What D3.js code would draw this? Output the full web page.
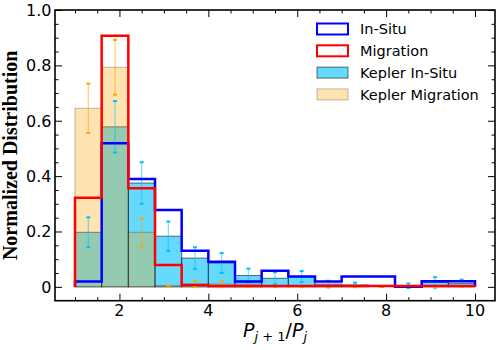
<!DOCTYPE html>
<html>
<head>
<meta charset="utf-8">
<script src="https://cdn.jsdelivr.net/npm/d3@7"></script>
<style>
  body { margin: 0; background: #fff; }
  svg { display: block; }
  .tick-label { font-family: "DejaVu Sans", sans-serif; font-size: 16px; fill: #000; }
  .legend text { font-family: "DejaVu Sans", sans-serif; font-size: 14.5px; fill: #000; }
</style>
</head>
<body>
<svg id="chart" width="498" height="350"></svg>
<script>
// Bin edges of P_{j+1}/P_j
const binEdges = [1.0, 1.6, 2.2, 2.8, 3.4, 4.0, 4.6, 5.2, 5.8, 6.4, 7.0, 7.6, 8.2, 8.8, 9.4, 10.0];

// Normalized distributions, one value per bin
const inSitu          = [0.019, 0.519, 0.390, 0.278, 0.130, 0.091, 0.019, 0.058, 0.037, 0.019, 0.037, 0.037, 0.000, 0.020, 0.020];
const migration       = [0.322, 0.907, 0.356, 0.079, 0.007, 0.003, 0.003, 0.003, 0.003, 0.003, 0.003, 0.003, 0.003, 0.003, 0.003];
const keplerInSitu    = [0.197, 0.578, 0.375, 0.183, 0.104, 0.086, 0.041, 0.031, 0.037, 0.010, 0.007, 0.000, 0.004, 0.016, 0.013];
const keplerInSituErr = [0.054, 0.093, 0.075, 0.053, 0.039, 0.036, 0.025, 0.022, 0.020, 0.012, 0.008, 0.000, 0.008, 0.019, 0.013];
const keplerMigration    = [0.645, 0.793, 0.197, 0.005, 0.010, 0.010, 0.010, 0.000, 0.000, 0.000, 0.000, 0.000, 0.000, 0.000, 0.000];
const keplerMigrationErr = [0.089, 0.099, 0.050, 0.000, 0.011, 0.011, 0.011, 0.000, 0.000, 0.000, 0.000, 0.000, 0.000, 0.000, 0.000];

const yTicks = [0, 0.2, 0.4, 0.6, 0.8, 1.0];
const yTickLabels = ['0', '0.2', '0.4', '0.6', '0.8', '1.0'];
const xTicks = [2, 4, 6, 8, 10];
const legendLabels = ['In-Situ', 'Migration', 'Kepler In-Situ', 'Kepler Migration'];

// Layout
const frame = { left: 55, right: 495, top: 10, bottom: 300.7 };

const svg = d3.select('#chart');

const x = d3.scaleLinear().domain([0.55, 10.45]).range([frame.left, frame.right]);
const y = d3.scaleLinear().domain([-0.05, 1.0]).range([frame.bottom, frame.top]);

const bins = binEdges.slice(0, -1).map((x0, i) => ({ x0, x1: binEdges[i + 1], i }));

const plot = svg.append('g');

// Filled Kepler histograms
function filledHist(values, fill, fillOpacity, edge) {
  plot.append('g')
    .selectAll('rect')
    .data(bins.filter(b => values[b.i] > 0))
    .join('rect')
      .attr('x', d => x(d.x0))
      .attr('width', d => x(d.x1) - x(d.x0))
      .attr('y', d => y(values[d.i]))
      .attr('height', d => y(0) - y(values[d.i]))
      .attr('fill', fill)
      .attr('fill-opacity', fillOpacity)
      .attr('stroke', edge)
      .attr('stroke-width', 1);
}
filledHist(keplerInSitu, 'deepskyblue', 0.6, 'rgba(0,0,0,0.55)');
filledHist(keplerMigration, 'orange', 0.3, 'rgba(0,0,0,0.25)');

// Error bars at bin centres
function errorBars(values, errs, color) {
  const g = plot.append('g');
  const data = bins.map(b => ({ c: (b.x0 + b.x1) / 2, v: values[b.i], e: errs[b.i] }));
  g.selectAll('line')
    .data(data)
    .join('line')
      .attr('x1', d => x(d.c)).attr('x2', d => x(d.c))
      .attr('y1', d => y(d.v - d.e)).attr('y2', d => y(d.v + d.e))
      .attr('stroke', color).attr('stroke-opacity', 0.55).attr('stroke-width', 1.2);
  const caps = data.flatMap(d => [d.v - d.e, d.v + d.e].map(v => ({ c: d.c, v })));
  g.selectAll('rect')
    .data(caps)
    .join('rect')
      .attr('x', d => x(d.c) - 2)
      .attr('y', d => y(d.v) - 1)
      .attr('width', 4).attr('height', 2)
      .attr('fill', color);
}
errorBars(keplerInSitu, keplerInSituErr, 'deepskyblue');
errorBars(keplerMigration, keplerMigrationErr, 'orange');

// Step outlines of the simulated distributions
function stepPath(values) {
  const pts = [[binEdges[0], 0]];
  values.forEach((v, i) => { pts.push([binEdges[i], v]); pts.push([binEdges[i + 1], v]); });
  pts.push([binEdges[binEdges.length - 1], 0]);
  return d3.line().x(d => x(d[0])).y(d => y(d[1]))(pts);
}
plot.append('path').attr('d', stepPath(inSitu))
  .attr('fill', 'none').attr('stroke', '#0000ff').attr('stroke-width', 2.5).attr('stroke-linejoin', 'miter');
plot.append('path').attr('d', stepPath(migration))
  .attr('fill', 'none').attr('stroke', '#ff0000').attr('stroke-width', 2.5).attr('stroke-linejoin', 'miter');

// Axes: inward ticks on all four sides
const yMinor = d3.range(-0.05, 1.001, 0.05).filter(v => v > -0.04 && !yTicks.some(t => Math.abs(t - v) < 1e-6));
const xMinor = d3.range(1, 10.01, 0.5).filter(v => !xTicks.includes(v));

svg.append('g').attr('transform', `translate(${frame.left},0)`)
  .call(d3.axisRight(y).tickValues(yTicks).tickSize(7).tickFormat(''));
svg.append('g').attr('transform', `translate(${frame.left},0)`)
  .call(d3.axisRight(y).tickValues(yMinor).tickSize(3.5).tickFormat(''));
svg.append('g').attr('transform', `translate(${frame.right},0)`)
  .call(d3.axisLeft(y).tickValues(yTicks).tickSize(7).tickFormat(''));
svg.append('g').attr('transform', `translate(${frame.right},0)`)
  .call(d3.axisLeft(y).tickValues(yMinor).tickSize(3.5).tickFormat(''));
svg.append('g').attr('transform', `translate(0,${frame.bottom})`)
  .call(d3.axisTop(x).tickValues(xTicks).tickSize(7).tickFormat(''));
svg.append('g').attr('transform', `translate(0,${frame.bottom})`)
  .call(d3.axisTop(x).tickValues(xMinor).tickSize(3.5).tickFormat(''));
svg.append('g').attr('transform', `translate(0,${frame.top})`)
  .call(d3.axisBottom(x).tickValues(xTicks).tickSize(7).tickFormat(''));
svg.append('g').attr('transform', `translate(0,${frame.top})`)
  .call(d3.axisBottom(x).tickValues(xMinor).tickSize(3.5).tickFormat(''));
svg.selectAll('.domain').remove();
svg.selectAll('.tick line').attr('stroke', '#000').attr('stroke-width', 1);

svg.append('rect')
  .attr('x', frame.left).attr('y', frame.top)
  .attr('width', frame.right - frame.left).attr('height', frame.bottom - frame.top)
  .attr('fill', 'none').attr('stroke', '#000').attr('stroke-width', 1.6);

// Tick labels
svg.append('g').selectAll('text')
  .data(yTicks)
  .join('text')
    .attr('class', 'tick-label')
    .attr('x', frame.left - 3.5)
    .attr('y', d => y(d))
    .attr('dy', '0.36em')
    .attr('text-anchor', 'end')
    .text((d, i) => yTickLabels[i]);
svg.append('g').selectAll('text')
  .data(xTicks)
  .join('text')
    .attr('class', 'tick-label')
    .attr('x', d => x(d))
    .attr('y', frame.bottom + 3)
    .attr('dy', '0.76em')
    .attr('text-anchor', 'middle')
    .text(d => d);

// Axis titles
const xl = svg.append('text')
  .attr('x', (frame.left + frame.right) / 2)
  .attr('y', 337)
  .attr('text-anchor', 'middle')
  .style('font-family', '"DejaVu Sans", sans-serif')
  .style('font-style', 'italic')
  .style('font-size', '19px');
xl.append('tspan').text('P');
xl.append('tspan').attr('dy', 4).style('font-size', '13px').text('j');
xl.append('tspan').style('font-size', '13px').style('font-style', 'normal').text(' + 1');
xl.append('tspan').attr('dy', -4).style('font-style', 'normal').text('/');
xl.append('tspan').text('P');
xl.append('tspan').attr('dy', 4).style('font-size', '13px').text('j');

svg.append('text')
  .attr('transform', `translate(17,${(frame.top + frame.bottom) / 2}) rotate(-90)`)
  .attr('text-anchor', 'middle')
  .style('font-family', '"Liberation Serif", serif')
  .style('font-weight', 'bold')
  .style('font-size', '20px')
  .text('Normalized Distribution');

// Legend
const legendStyles = [
  { fill: '#fff', stroke: '#0000ff', sw: 2 },
  { fill: '#fff', stroke: '#ff0000', sw: 2 },
  { fill: 'rgb(102,217,255)', stroke: 'rgba(0,0,0,0.55)', sw: 1 },
  { fill: 'rgb(255,228,178)', stroke: 'rgba(0,0,0,0.25)', sw: 1 }
];
const legend = svg.append('g').attr('class', 'legend');
const rows = legend.selectAll('g')
  .data(legendLabels)
  .join('g')
    .attr('transform', (d, i) => `translate(317,${29 + i * 21.8})`);
rows.append('rect')
  .attr('x', 0).attr('y', -5.5).attr('width', 31).attr('height', 11)
  .attr('fill', (d, i) => legendStyles[i].fill)
  .attr('stroke', (d, i) => legendStyles[i].stroke)
  .attr('stroke-width', (d, i) => legendStyles[i].sw);
rows.append('text')
  .attr('x', 43).attr('dy', '0.36em')
  .text(d => d);
</script>
</body>
</html>
